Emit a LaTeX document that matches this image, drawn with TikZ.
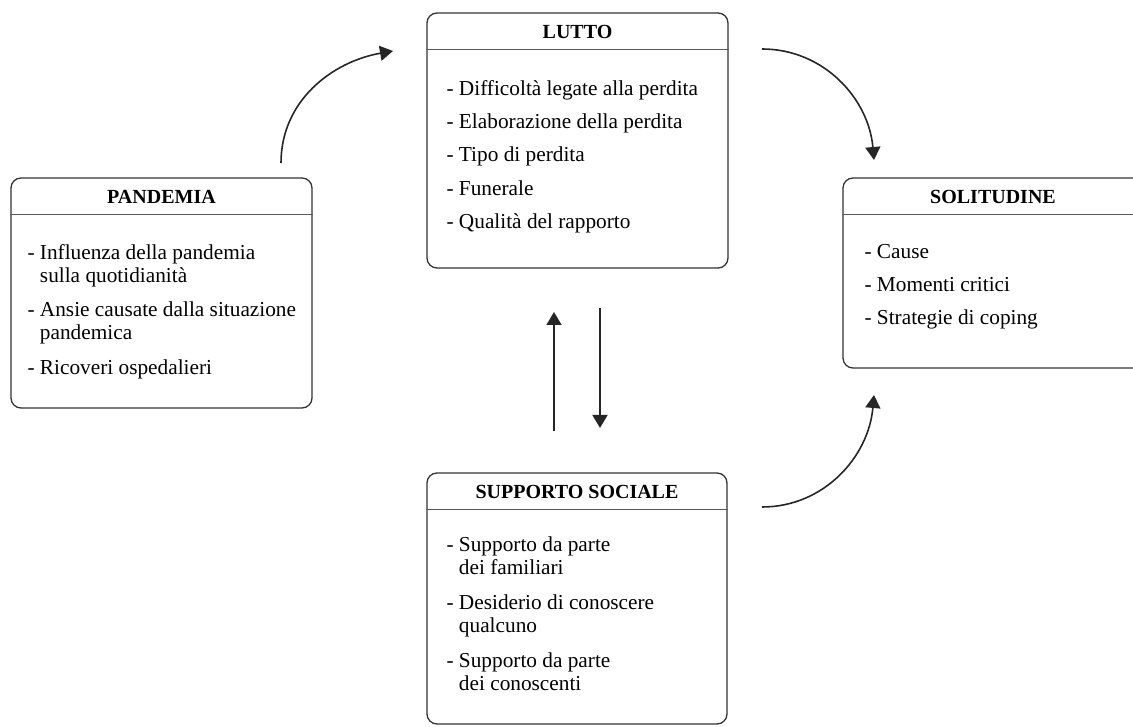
\documentclass[tikz,border=0pt]{standalone}
\usepackage{fontspec}
\setmainfont{Liberation Serif}
\usetikzlibrary{arrows.meta}

\begin{document}
\begin{tikzpicture}[x=1pt,y=1pt,
  box/.style={draw=black!80, line width=1.3pt, rounded corners=10pt,
    minimum width=301pt, inner sep=0pt},
  title/.style={font=\fontsize{20}{22}\selectfont\bfseries, text=black},
  hline/.style={draw=black!65, line width=1.1pt},
  items/.style={anchor=north west, inner sep=0pt, align=left,
    font=\fontsize{21.3}{23}\selectfont, text=black},
  arr/.style={-{Triangle[length=13pt,width=15pt]}, line width=1.6pt, color=black!85}
]
  \useasboundingbox (0,0) rectangle (1133,726);

  % boxes
  \node[box, minimum height=230pt] (pan) at (161.5,433) {};
  \node[box, minimum height=255pt] (lut) at (577.5,585.5) {};
  \node[box, minimum height=190pt, minimum width=300pt] (sol) at (993,453) {};
  \node[box, minimum height=251pt, minimum width=300pt] (sup) at (577,127.5) {};

  % titles and rules
  \node[title] (pant) at ([yshift=-20pt]pan.north) {PANDEMIA};
  \node[title] (lutt) at ([yshift=-20pt]lut.north) {LUTTO};
  \node[title] (solt) at ([yshift=-20pt]sol.north) {SOLITUDINE};
  \node[title] (supt) at ([yshift=-20pt]sup.north) {SUPPORTO SOCIALE};
  \foreach \b in {pan,lut,sol,sup}
    \draw[hline] ([yshift=-37pt]\b.north west) -- ([yshift=-37pt]\b.north east);

  % lists
  \node[items] (panl) at ([xshift=17pt,yshift=-65.5pt]pan.north west) {%
    \begin{tabular}{@{}l@{\ }l@{}}
      - & Influenza della pandemia\\
        & sulla quotidianità\\[11.5pt]
      - & Ansie causate dalla situazione\\
        & pandemica\\[11.5pt]
      - & Ricoveri ospedalieri
    \end{tabular}};
  \node[items] (lutl) at ([xshift=20pt,yshift=-66.5pt]lut.north west) {%
    \begin{tabular}{@{}l@{\ }l@{}}
      - & Difficoltà legate alla perdita\\[10.3pt]
      - & Elaborazione della perdita\\[10.3pt]
      - & Tipo di perdita\\[10.3pt]
      - & Funerale\\[10.3pt]
      - & Qualità del rapporto
    \end{tabular}};
  \node[items] (soll) at ([xshift=22pt,yshift=-64.5pt]sol.north west) {%
    \begin{tabular}{@{}l@{\ }l@{}}
      - & Cause\\[10.3pt]
      - & Momenti critici\\[10.3pt]
      - & Strategie di coping
    \end{tabular}};
  \node[items] (supl) at ([xshift=20pt,yshift=-62.5pt]sup.north west) {%
    \begin{tabular}{@{}l@{\ }l@{}}
      - & Supporto da parte\\
        & dei familiari\\[12pt]
      - & Desiderio di conoscere\\
        & qualcuno\\[12pt]
      - & Supporto da parte\\
        & dei conoscenti
    \end{tabular}};

  % arrow ends
  \coordinate (pans) at (281,563);
  \coordinate (lute) at (393,675);
  \coordinate (luts) at (762,677);
  \coordinate (sole) at (874,566);
  \coordinate (sups) at (762,219);
  \coordinate (solb) at (874,331);
  \coordinate (supu) at (554,295);
  \coordinate (lutb) at (554,414);
  \coordinate (lutd) at (600,418);
  \coordinate (supd) at (600,298);

  \draw[arr] (pans) to[out=90, in=190] (lute);
  \draw[arr] (luts) to[out=0, in=95] (sole);
  \draw[arr] (sups) to[out=0, in=-95] (solb);
  \draw[arr] (supu) -- (lutb);
  \draw[arr] (lutd) -- (supd);
\end{tikzpicture}
\end{document}
